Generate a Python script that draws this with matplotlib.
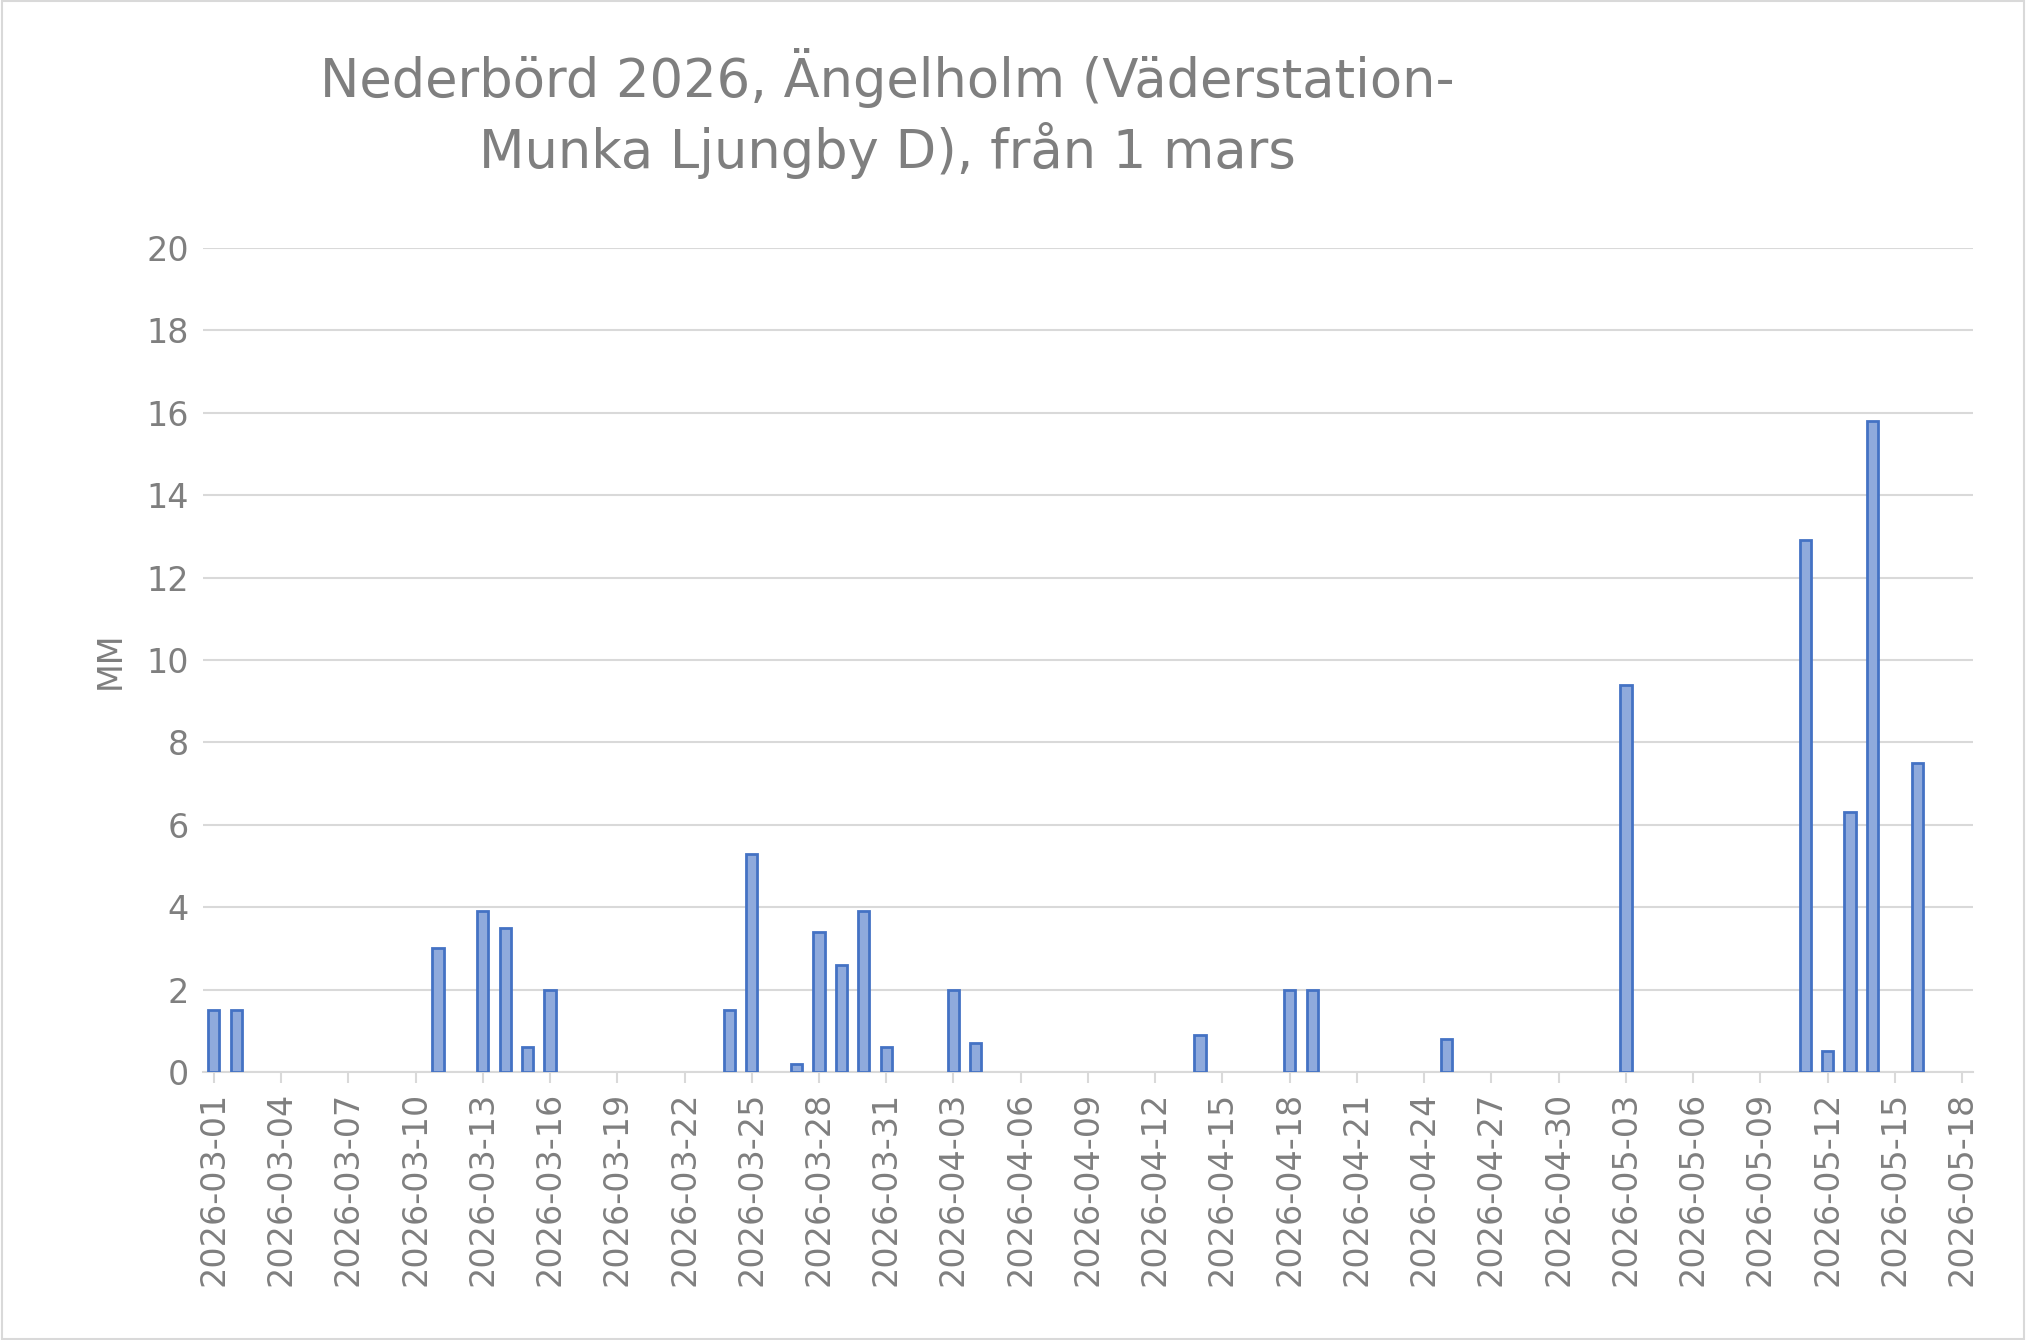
import datetime as dt

import matplotlib
matplotlib.use("Agg")
import matplotlib.pyplot as plt
from matplotlib.patches import Rectangle

# Daily rainfall (mm), only days with rain
rain_dates = [
    "2026-03-01", "2026-03-02", "2026-03-11", "2026-03-13", "2026-03-14",
    "2026-03-15", "2026-03-16", "2026-03-24", "2026-03-25", "2026-03-27",
    "2026-03-28", "2026-03-29", "2026-03-30", "2026-03-31", "2026-04-03",
    "2026-04-04", "2026-04-14", "2026-04-18", "2026-04-19", "2026-04-25",
    "2026-05-03", "2026-05-11", "2026-05-12", "2026-05-13", "2026-05-14",
    "2026-05-16",
]
rain_mm = [
    1.5, 1.5, 3.0, 3.9, 3.5,
    0.6, 2.0, 1.5, 5.3, 0.2,
    3.4, 2.6, 3.9, 0.6, 2.0,
    0.7, 0.9, 2.0, 2.0, 0.8,
    9.4, 12.9, 0.5, 6.3, 15.8,
    7.5,
]
start = dt.date(2026, 3, 1)
end = dt.date(2026, 5, 18)

grey = "#7F7F7F"
days = [(dt.date.fromisoformat(d) - start).days for d in rain_dates]
n_days = (end - start).days
tick_days = list(range(0, n_days + 1, 3))
tick_labels = [(start + dt.timedelta(days=t)).isoformat() for t in tick_days]

fig = plt.figure(figsize=(20.26, 13.40), dpi=100)
ax = fig.add_axes([0.100, 0.200, 0.874, 0.615])
ax.bar(days, rain_mm, width=0.5, color="#8FAADC", edgecolor="#4472C4",
       linewidth=2, zorder=3)

ax.set_xlim(-0.5, n_days + 0.5)
ax.set_ylim(0, 20)
ax.set_yticks(range(0, 21, 2))
ax.set_xticks(tick_days)
ax.set_xticklabels(tick_labels, rotation=90)
ax.tick_params(axis="both", colors=grey, labelsize=24, length=0, pad=10)
ax.tick_params(axis="x", length=8, width=1.5, color="#D9D9D9", pad=6)
ax.grid(axis="y", color="#D9D9D9", linewidth=1.5, zorder=0)
for side in ["top", "right", "left"]:
    ax.spines[side].set_visible(False)
ax.spines["bottom"].set_color("#D9D9D9")
ax.spines["bottom"].set_linewidth(1.5)
ax.set_ylabel("MM", color=grey, fontsize=24, labelpad=14)

fig.text(0.438, 0.915, "Nederbörd 2026, Ängelholm (Väderstation-\nMunka Ljungby D), från 1 mars",
         ha="center", va="center", fontsize=38, color=grey, linespacing=1.3)
fig.patches.append(Rectangle((0.001, 0.001), 0.998, 0.998, transform=fig.transFigure,
                             fill=False, edgecolor="#D9D9D9", linewidth=1.5))

fig.savefig("out.png", dpi=100)
